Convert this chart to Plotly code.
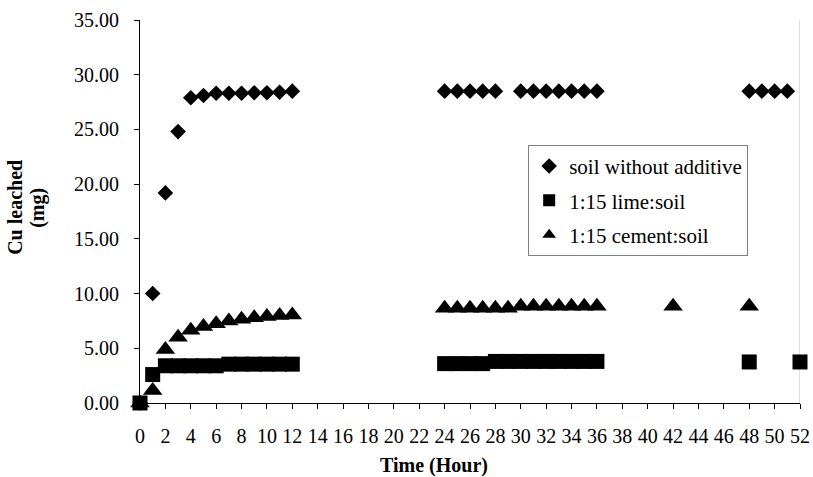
import plotly.graph_objects as go

# ---- data ----
soil_t = [0, 1, 2, 3, 4, 5, 6, 7, 8, 9, 10, 11, 12,
          24, 25, 26, 27, 28,
          30, 31, 32, 33, 34, 35, 36,
          48, 49, 50, 51]
soil_v = [0.0, 10.0, 19.2, 24.8, 27.9, 28.1, 28.3, 28.3, 28.3, 28.35, 28.35, 28.4, 28.5,
          28.5, 28.5, 28.5, 28.5, 28.5,
          28.5, 28.5, 28.5, 28.5, 28.5, 28.5, 28.5,
          28.5, 28.5, 28.5, 28.5]

lime_t = [0, 1, 2, 3, 4, 5, 6, 7, 8, 9, 10, 11, 12,
          24, 25, 26, 27, 28, 29, 30, 31, 32, 33, 34, 35, 36,
          48, 52]
lime_v = [0.0, 2.6, 3.4, 3.4, 3.4, 3.4, 3.4, 3.55, 3.55, 3.55, 3.55, 3.55, 3.55,
          3.6, 3.6, 3.6, 3.6, 3.8, 3.8, 3.8, 3.8, 3.8, 3.8, 3.8, 3.8, 3.8,
          3.75, 3.75]

cement_t = [0, 1, 2, 3, 4, 5, 6, 7, 8, 9, 10, 11, 12,
            24, 25, 26, 27, 28, 29, 30, 31, 32, 33, 34, 35, 36,
            42, 48]
cement_v = [0.0, 1.15, 4.9, 6.0, 6.65, 7.0, 7.25, 7.5, 7.65, 7.8, 7.9, 8.0, 8.05,
            8.65, 8.65, 8.65, 8.65, 8.65, 8.65, 8.85, 8.85, 8.85, 8.85, 8.85, 8.85, 8.85,
            8.85, 8.85]

names = ["soil without additive", "1:15 lime:soil", "1:15 cement:soil"]
x_ticks = list(range(0, 53, 2))
y_ticks = [0, 5, 10, 15, 20, 25, 30, 35]

SERIF = "Liberation Serif"

fig = go.Figure()
fig.add_trace(go.Scatter(x=soil_t, y=soil_v, mode="markers", name=names[0],
                         legendgroup="a", cliponaxis=False,
                         marker=dict(symbol="diamond", size=12, color="black")))
fig.add_trace(go.Scatter(x=lime_t, y=lime_v, mode="markers", name=names[1],
                         legendgroup="b", cliponaxis=False,
                         marker=dict(symbol="square", size=15, color="black")))
fig.add_trace(go.Scatter(x=cement_t, y=cement_v, mode="markers", name=names[2],
                         legendgroup="c", cliponaxis=False,
                         marker=dict(symbol="triangle-up", size=17, color="black")))

L, R, T, B = 139.6, 13, 20, 73.7
W, H = 813, 477
pw = W - L - R
ph = H - T - B

fig.update_layout(
    width=W, height=H,
    margin=dict(l=L, r=R, t=T, b=B, pad=0, autoexpand=False),
    paper_bgcolor="white", plot_bgcolor="white",
    font=dict(family=SERIF, size=20, color="black"),
    showlegend=True,
    legend=dict(
        x=(528 - L) / pw, y=(403.3 - 145) / ph, xanchor="left", yanchor="top",
        bgcolor="white", bordercolor="#808080", borderwidth=1,
        font=dict(family=SERIF, size=21, color="black"),
        traceorder="grouped", tracegroupgap=4, itemsizing="constant",
    ),
    xaxis=dict(
        range=[0, 52], tickmode="array", tickvals=x_ticks,
        ticktext=[str(v) for v in x_ticks], automargin=False,
        showgrid=False, zeroline=False,
        showline=True, linecolor="black", linewidth=1,
        ticks="outside", ticklen=5, tickcolor="black",
        tickfont=dict(family=SERIF, size=20),
        ticklabelstandoff=10,
    ),
    yaxis=dict(
        range=[0, 35], tickmode="array", tickvals=y_ticks,
        ticktext=[f"{v:.2f}" for v in y_ticks], automargin=False,
        showgrid=False, zeroline=False,
        showline=True, linecolor="black", linewidth=1,
        ticks="outside", ticklen=5, tickcolor="black",
        tickfont=dict(family=SERIF, size=20),
        ticklabelstandoff=11,
    ),
)

# light right border of plot area
fig.add_shape(type="line", xref="x", yref="paper", x0=52, x1=52, y0=0, y1=1,
              line=dict(color="#c0c0c0", width=1), layer="below")

# axis titles
fig.add_annotation(text="<b>Time (Hour)</b>", xref="paper", yref="paper",
                   x=(434 - L) / pw, y=-(466 - 403.3) / ph,
                   xanchor="center", yanchor="middle", showarrow=False,
                   font=dict(family=SERIF, size=20, color="black"))
fig.add_annotation(text="<b>Cu leached</b>", xref="paper", yref="paper",
                   x=(15 - L) / pw, y=(403.3 - 207.5) / ph, textangle=-90,
                   xanchor="center", yanchor="middle", showarrow=False,
                   font=dict(family=SERIF, size=20, color="black"))
fig.add_annotation(text="<b>(mg)</b>", xref="paper", yref="paper",
                   x=(37 - L) / pw, y=(403.3 - 207.5) / ph, textangle=-90,
                   xanchor="center", yanchor="middle", showarrow=False,
                   font=dict(family=SERIF, size=20, color="black"))

fig.write_html("out.html")
